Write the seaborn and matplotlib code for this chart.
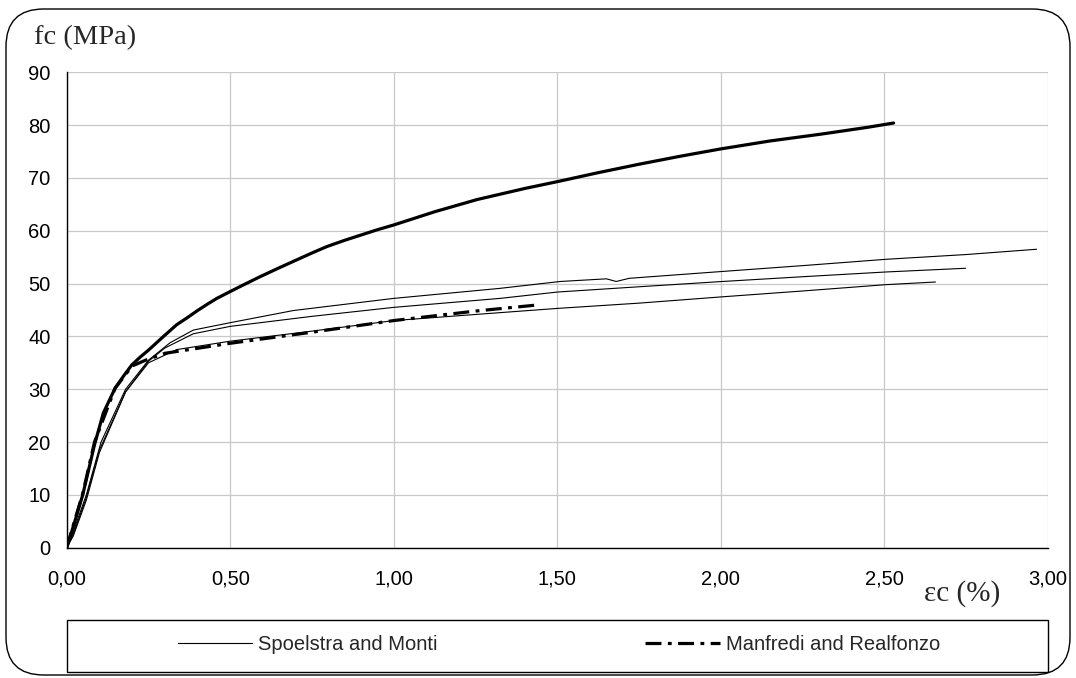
import numpy as np
import pandas as pd
import matplotlib
matplotlib.use("Agg")
import matplotlib.pyplot as plt
from matplotlib.patches import FancyBboxPatch, Rectangle
from matplotlib.lines import Line2D
import seaborn as sns

# ---- data ----
thick_x = [0, 0.025, 0.049, 0.085, 0.112, 0.148, 0.175, 0.199, 0.225, 0.25, 0.296, 0.336, 0.37, 0.40,
           0.43, 0.459, 0.50, 0.545, 0.591, 0.65, 0.70, 0.75, 0.795, 0.85, 0.90, 0.95, 1.00, 1.125,
           1.254, 1.40, 1.50, 1.625, 1.75, 1.875, 2.00, 2.15, 2.307, 2.45, 2.528]
thick_y = [0, 5.0, 10.0, 19.5, 25.5, 30.2, 32.6, 34.6, 36.1, 37.4, 40.0, 42.2, 43.6, 44.9,
           46.1, 47.2, 48.5, 49.9, 51.3, 53.0, 54.4, 55.8, 57.0, 58.2, 59.2, 60.2, 61.1, 63.6,
           65.9, 68.0, 69.3, 71.0, 72.6, 74.1, 75.5, 77.0, 78.3, 79.6, 80.4]

exp_a_x = [0, 0.02, 0.06, 0.105, 0.18, 0.25, 0.316, 0.387, 0.50, 0.693, 1.00, 1.325, 1.509,
           1.65, 1.68, 1.72, 2.005, 2.25, 2.505, 2.75, 2.965]
exp_a_y = [0, 3.0, 10.0, 20.0, 30.0, 35.5, 38.8, 41.2, 42.6, 44.9, 47.2, 49.1, 50.4,
           50.9, 50.4, 51.0, 52.3, 53.4, 54.6, 55.5, 56.5]

exp_b_x = [0, 0.02, 0.06, 0.10, 0.18, 0.25, 0.30, 0.387, 0.50, 0.75, 1.00, 1.325, 1.50,
           1.75, 2.005, 2.25, 2.505, 2.748]
exp_b_y = [0, 2.5, 9.5, 18.5, 29.5, 35.3, 37.8, 40.5, 41.9, 43.8, 45.5, 47.2, 48.4,
           49.4, 50.4, 51.3, 52.2, 52.9]

exp_c_x = [0, 0.02, 0.06, 0.10, 0.18, 0.25, 0.336, 0.50, 0.75, 1.00, 1.325, 1.50,
           1.75, 2.005, 2.25, 2.505, 2.656]
exp_c_y = [0, 2.2, 9.0, 18.0, 29.5, 35.0, 37.5, 39.1, 41.0, 43.0, 44.5, 45.3,
           46.3, 47.5, 48.6, 49.8, 50.3]

mr_x = [0, 0.05, 0.085, 0.148, 0.20, 0.245, 0.30, 0.50, 0.75, 1.00, 1.25, 1.447]
mr_y = [0, 10.5, 20.0, 30.2, 34.4, 35.6, 36.8, 38.7, 40.8, 43.0, 44.8, 46.0]

x_ticks = [0, 0.5, 1.0, 1.5, 2.0, 2.5, 3.0]
x_tick_labels = ["0,00", "0,50", "1,00", "1,50", "2,00", "2,50", "3,00"]
y_ticks = [0, 10, 20, 30, 40, 50, 60, 70, 80, 90]

legend_labels = ["Spoelstra and Monti", "Manfredi and Realfonzo"]

# ---- figure ----
sns.set_theme(style="white")
plt.rcParams["font.family"] = ["Liberation Sans", "DejaVu Sans"]

W, H = 1076, 678
fig = plt.figure(figsize=(W / 100, H / 100), dpi=100)
ax = fig.add_axes([66.7 / W, 1 - 547.7 / H, (1048 - 66.7) / W, (547.7 - 72.3) / H])

def px(x0, y0):
    return x0 / W, 1 - y0 / H

DASHDOT = (0, (5, 2, 1.2, 2))
series = [
    (thick_x, thick_y, dict(color="black", linewidth=2.3, linestyle="-")),
    (exp_a_x, exp_a_y, dict(color="black", linewidth=0.8, linestyle="-")),
    (exp_b_x, exp_b_y, dict(color="black", linewidth=0.8, linestyle="-")),
    (exp_c_x, exp_c_y, dict(color="black", linewidth=0.8, linestyle="-")),
    (mr_x, mr_y, dict(color="black", linewidth=2.3, linestyle=DASHDOT)),
]
for xs, ys, kw in series:
    df = pd.DataFrame({"x": xs, "y": ys})
    sns.lineplot(data=df, x="x", y="y", ax=ax, sort=False, estimator=None, **kw)

ax.set_xlim(0, 3)
ax.set_ylim(0, 90)
ax.set_xticks(x_ticks)
ax.set_xticklabels(x_tick_labels)
ax.set_yticks(y_ticks)
ax.set_xlabel("")
ax.set_ylabel("")
ax.grid(True, color="#c8c8c8", linewidth=0.9)
ax.set_axisbelow(True)
for s in ["top", "right"]:
    ax.spines[s].set_visible(False)
for s in ["left", "bottom"]:
    ax.spines[s].set_color("black")
    ax.spines[s].set_linewidth(1.0)
ax.tick_params(axis="both", which="major", direction="out", length=4.5, width=1,
               color="black", labelsize=14.5, labelcolor="black")
ax.tick_params(axis="x", pad=11)
ax.tick_params(axis="y", pad=7)

# axis titles (serif, as in the reference)
serif = ["Liberation Serif", "DejaVu Serif"]
fig.text(*px(34, 38), "fc (MPa)", fontsize=20.5, family=serif, ha="left", va="center")
fig.text(*px(962, 594), "εc (%)", fontsize=21, family=serif, ha="center", va="center")

# legend box
fig.patches.append(Rectangle(px(66.7, 672), (1048 - 66.7) / W, (672 - 620) / H,
                             transform=fig.transFigure, fill=False, edgecolor="black",
                             linewidth=1.0))
handles = [Line2D([], [], color="black", linewidth=0.8),
           Line2D([], [], color="black", linewidth=2.3, linestyle=DASHDOT)]
fig.legend(handles, legend_labels, loc="center", bbox_to_anchor=px(559, 645), ncol=2,
           frameon=False, fontsize=14.5, handlelength=3.7, handletextpad=0.3,
           columnspacing=10.3)

# rounded outer border
fig.patches.append(FancyBboxPatch(px(6, 675), (1070 - 6) / W, (675 - 9) / H,
                                  boxstyle="round,pad=0,rounding_size=0.035",
                                  transform=fig.transFigure, fill=False,
                                  edgecolor="black", linewidth=1.0,
                                  mutation_aspect=W / H))

fig.savefig("out.png", dpi=100)
